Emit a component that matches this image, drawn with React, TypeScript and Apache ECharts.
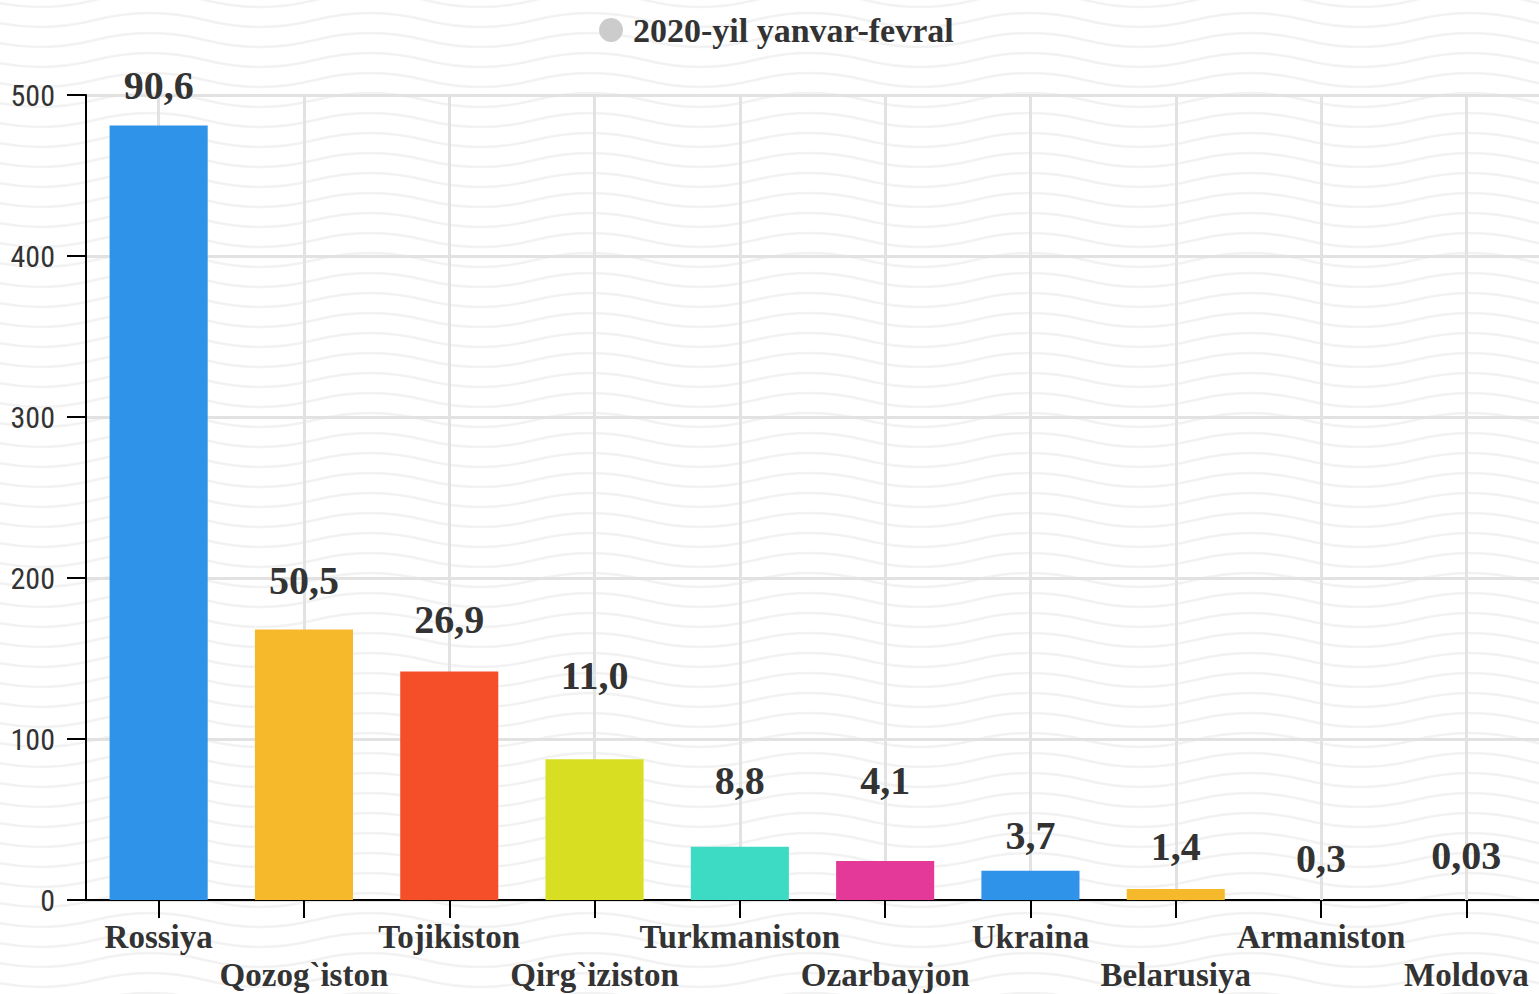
import React, { useEffect, useRef } from "react";
import * as echarts from "echarts";

const seriesName = "2020-yil yanvar-fevral";
const categories = [
  "Rossiya",
  "Qozog`iston",
  "Tojikiston",
  "Qirg`iziston",
  "Turkmaniston",
  "Ozarbayjon",
  "Ukraina",
  "Belarusiya",
  "Armaniston",
  "Moldova",
];
const barValues = [481, 168, 142, 87.5, 33, 24.2, 18.2, 6.8, 0, 0];
const labelTexts = ["90,6", "50,5", "26,9", "11,0", "8,8", "4,1", "3,7", "1,4", "0,3", "0,03"];
const labelLevels = [506, 198.5, 174, 139.5, 74.5, 74.5, 40.3, 33.5, 26, 27.5];
const barColors = [
  "#2E93E9",
  "#F6B92B",
  "#F54F2A",
  "#D8DF22",
  "#3DDBC3",
  "#E5399A",
  "#2E93E9",
  "#F6B92B",
  "#2E93E9",
  "#F6B92B",
];
const yMin = 0;
const yMax = 500;
const yStep = 100;

const W = 1539;
const H = 994;

function waveBackground(): string {
  const wl = 220;
  const amp = 14;
  let paths = "";
  for (let y = -20; y <= H + 20; y += 20) {
    let d = `M ${-125 - wl} ${y} Q ${-125 - wl + wl / 4} ${y - amp} ${-125 - wl / 2} ${y}`;
    for (let x = -125; x <= W + wl; x += wl / 2) {
      d += ` T ${x} ${y}`;
    }
    paths += `<path d="${d}" fill="none" stroke="#f2f2f2" stroke-width="2.5"/>`;
  }
  const svg = `<svg xmlns="http://www.w3.org/2000/svg" width="${W}" height="${H}" viewBox="0 0 ${W} ${H}"><rect width="${W}" height="${H}" fill="#ffffff"/>${paths}</svg>`;
  return "data:image/svg+xml;charset=utf-8," + encodeURIComponent(svg);
}

export default function App() {
  const ref = useRef<HTMLDivElement>(null);

  useEffect(() => {
    if (!ref.current) return;
    const chart = echarts.init(ref.current, null, { renderer: "svg" });
    const serif = "'Liberation Serif', 'Times New Roman', serif";
    chart.setOption({
      animation: false,
      backgroundColor: "#ffffff",
      graphic: [
        {
          type: "image",
          left: 0,
          top: 0,
          z: -10,
          silent: true,
          style: { image: waveBackground(), width: W, height: H },
        },
      ],
      legend: {
        data: [seriesName],
        left: 599,
        top: 13,
        padding: 0,
        icon: "circle",
        itemWidth: 24,
        itemHeight: 24,
        textStyle: {
          fontFamily: serif,
          fontWeight: "bold",
          fontSize: 34,
          color: "#333333",
          padding: [0, 0, 0, 5],
        },
      },
      grid: { left: 86, right: 0, top: 95, bottom: 93, containLabel: false },
      xAxis: {
        type: "category",
        data: categories,
        axisLine: { show: true, lineStyle: { color: "#000000", width: 2 } },
        axisTick: { show: true, alignWithLabel: true, length: 18, lineStyle: { color: "#000000", width: 2 } },
        splitLine: { show: false },
        axisLabel: {
          interval: 0,
          margin: 18,
          fontFamily: serif,
          fontWeight: "bold",
          fontSize: 33,
          lineHeight: 38,
          color: "#333333",
          formatter: (v: string, i: number) => (i % 2 ? "\n" + v : v),
        },
      },
      yAxis: {
        type: "value",
        min: yMin,
        max: yMax,
        interval: yStep,
        axisLine: { show: true, lineStyle: { color: "#000000", width: 2 } },
        axisTick: { show: true, length: 19, lineStyle: { color: "#000000", width: 2 } },
        splitLine: { show: true, lineStyle: { color: "#e2e2e2", width: 3 } },
        axisLabel: {
          margin: 31,
          fontFamily: "'Liberation Sans Narrow', 'Roboto Condensed', 'Liberation Sans', sans-serif",
          fontSize: 30,
          color: "#333333",
        },
      },
      series: [
        {
          name: seriesName,
          type: "bar",
          z: 2,
          barCategoryGap: "32.5%",
          itemStyle: { color: "#cccccc" },
          data: barValues.map((v, i) => ({ value: v, itemStyle: { color: barColors[i] } })),
          markLine: {
            silent: true,
            z: 1,
            symbol: "none",
            label: { show: false },
            lineStyle: { color: "#e2e2e2", width: 3, type: "solid" },
            data: categories.map((c) => ({ xAxis: c })),
          },
        },
        {
          name: "labels",
          type: "scatter",
          clip: false,
          z: 5,
          silent: true,
          symbolSize: 1,
          itemStyle: { color: "#ffffff", opacity: 1 },
          data: categories.map((c, i) => [c, labelLevels[i]]),
          label: {
            show: true,
            position: "inside",
            fontFamily: serif,
            fontWeight: "bold",
            fontSize: 40,
            color: "#333333",
            opacity: 1,
            textBorderWidth: 0,
            textBorderColor: "transparent",
            formatter: (p: any) => labelTexts[p.dataIndex],
          },
        },
      ],
    });
    return () => chart.dispose();
  }, []);

  return (
    <div
      ref={ref}
      style={{ position: "fixed", left: 0, top: 0, width: W, height: H }}
    />
  );
}
